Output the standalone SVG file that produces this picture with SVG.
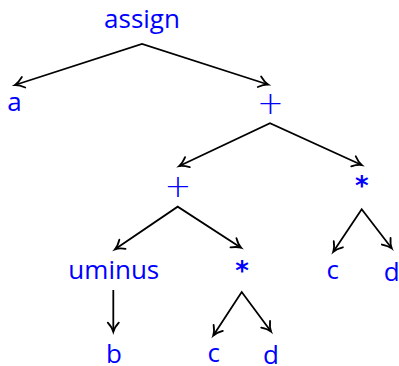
<svg xmlns="http://www.w3.org/2000/svg" width="399" height="366" viewBox="0 0 399 366">
<style>
.t{font-family:"Open Sans","Noto Sans",sans-serif;font-size:26px;fill:#0000ff;text-anchor:middle}
.p{font-family:"DejaVu Sans",sans-serif;font-weight:200;font-size:32px;fill:#0000ff;text-anchor:middle}
.s{font-family:"DejaVu Sans",sans-serif;font-weight:bold;font-size:26px;fill:#0000ff;text-anchor:middle}
.e{fill:none;stroke:#000;stroke-width:1.8;stroke-linejoin:miter;marker-start:url(#ah);marker-end:url(#ah)}
.e1{fill:none;stroke:#000;stroke-width:1.8;marker-end:url(#ah)}
</style>
<defs>
<marker id="ah" markerUnits="userSpaceOnUse" orient="auto-start-reverse" refX="0" refY="0" markerWidth="12" markerHeight="12" overflow="visible">
<path d="M-9,-5.5 C-5.5,-2.4 -2.2,-0.6 0,0 C-2.2,0.6 -5.5,2.4 -9,5.5" fill="none" stroke="#000" stroke-width="1.8" stroke-linecap="round"/>
</marker>
</defs>
<g id="edges">
<polyline class="e" points="15,85 142,44 268,84.5"/>
<polyline class="e" points="179.3,166 270,123.3 361.7,165"/>
<polyline class="e" points="115,249.3 177.7,206.7 241,247.7"/>
<polyline class="e" points="333.3,251.7 361.7,209.3 391.7,248.3"/>
<polyline class="e" points="213.3,335.5 241.7,292 271,331.5"/>
<line class="e1" x1="113.3" y1="290" x2="113.3" y2="331.7"/>
</g>
<g id="n-assign"><text class="t" x="142" y="27.5">assign</text></g>
<g id="n-a"><text class="t" x="14.5" y="110.7">a</text></g>
<g id="n-plus1"><text class="p" x="270.5" y="114">+</text></g>
<g id="n-plus2"><text class="p" x="178" y="197">+</text></g>
<g id="n-star1"><text class="s" x="361.7" y="195">*</text></g>
<g id="n-uminus"><text class="t" x="113.8" y="279">uminus</text></g>
<g id="n-star2"><text class="s" x="242" y="280">*</text></g>
<g id="n-c1"><text class="t" x="332.7" y="278.5">c</text></g>
<g id="n-d1"><text class="t" x="391.7" y="280.5">d</text></g>
<g id="n-b"><text class="t" x="114" y="362.7">b</text></g>
<g id="n-c2"><text class="t" x="213.7" y="361.7">c</text></g>
<g id="n-d2"><text class="t" x="271" y="364">d</text></g>
</svg>
